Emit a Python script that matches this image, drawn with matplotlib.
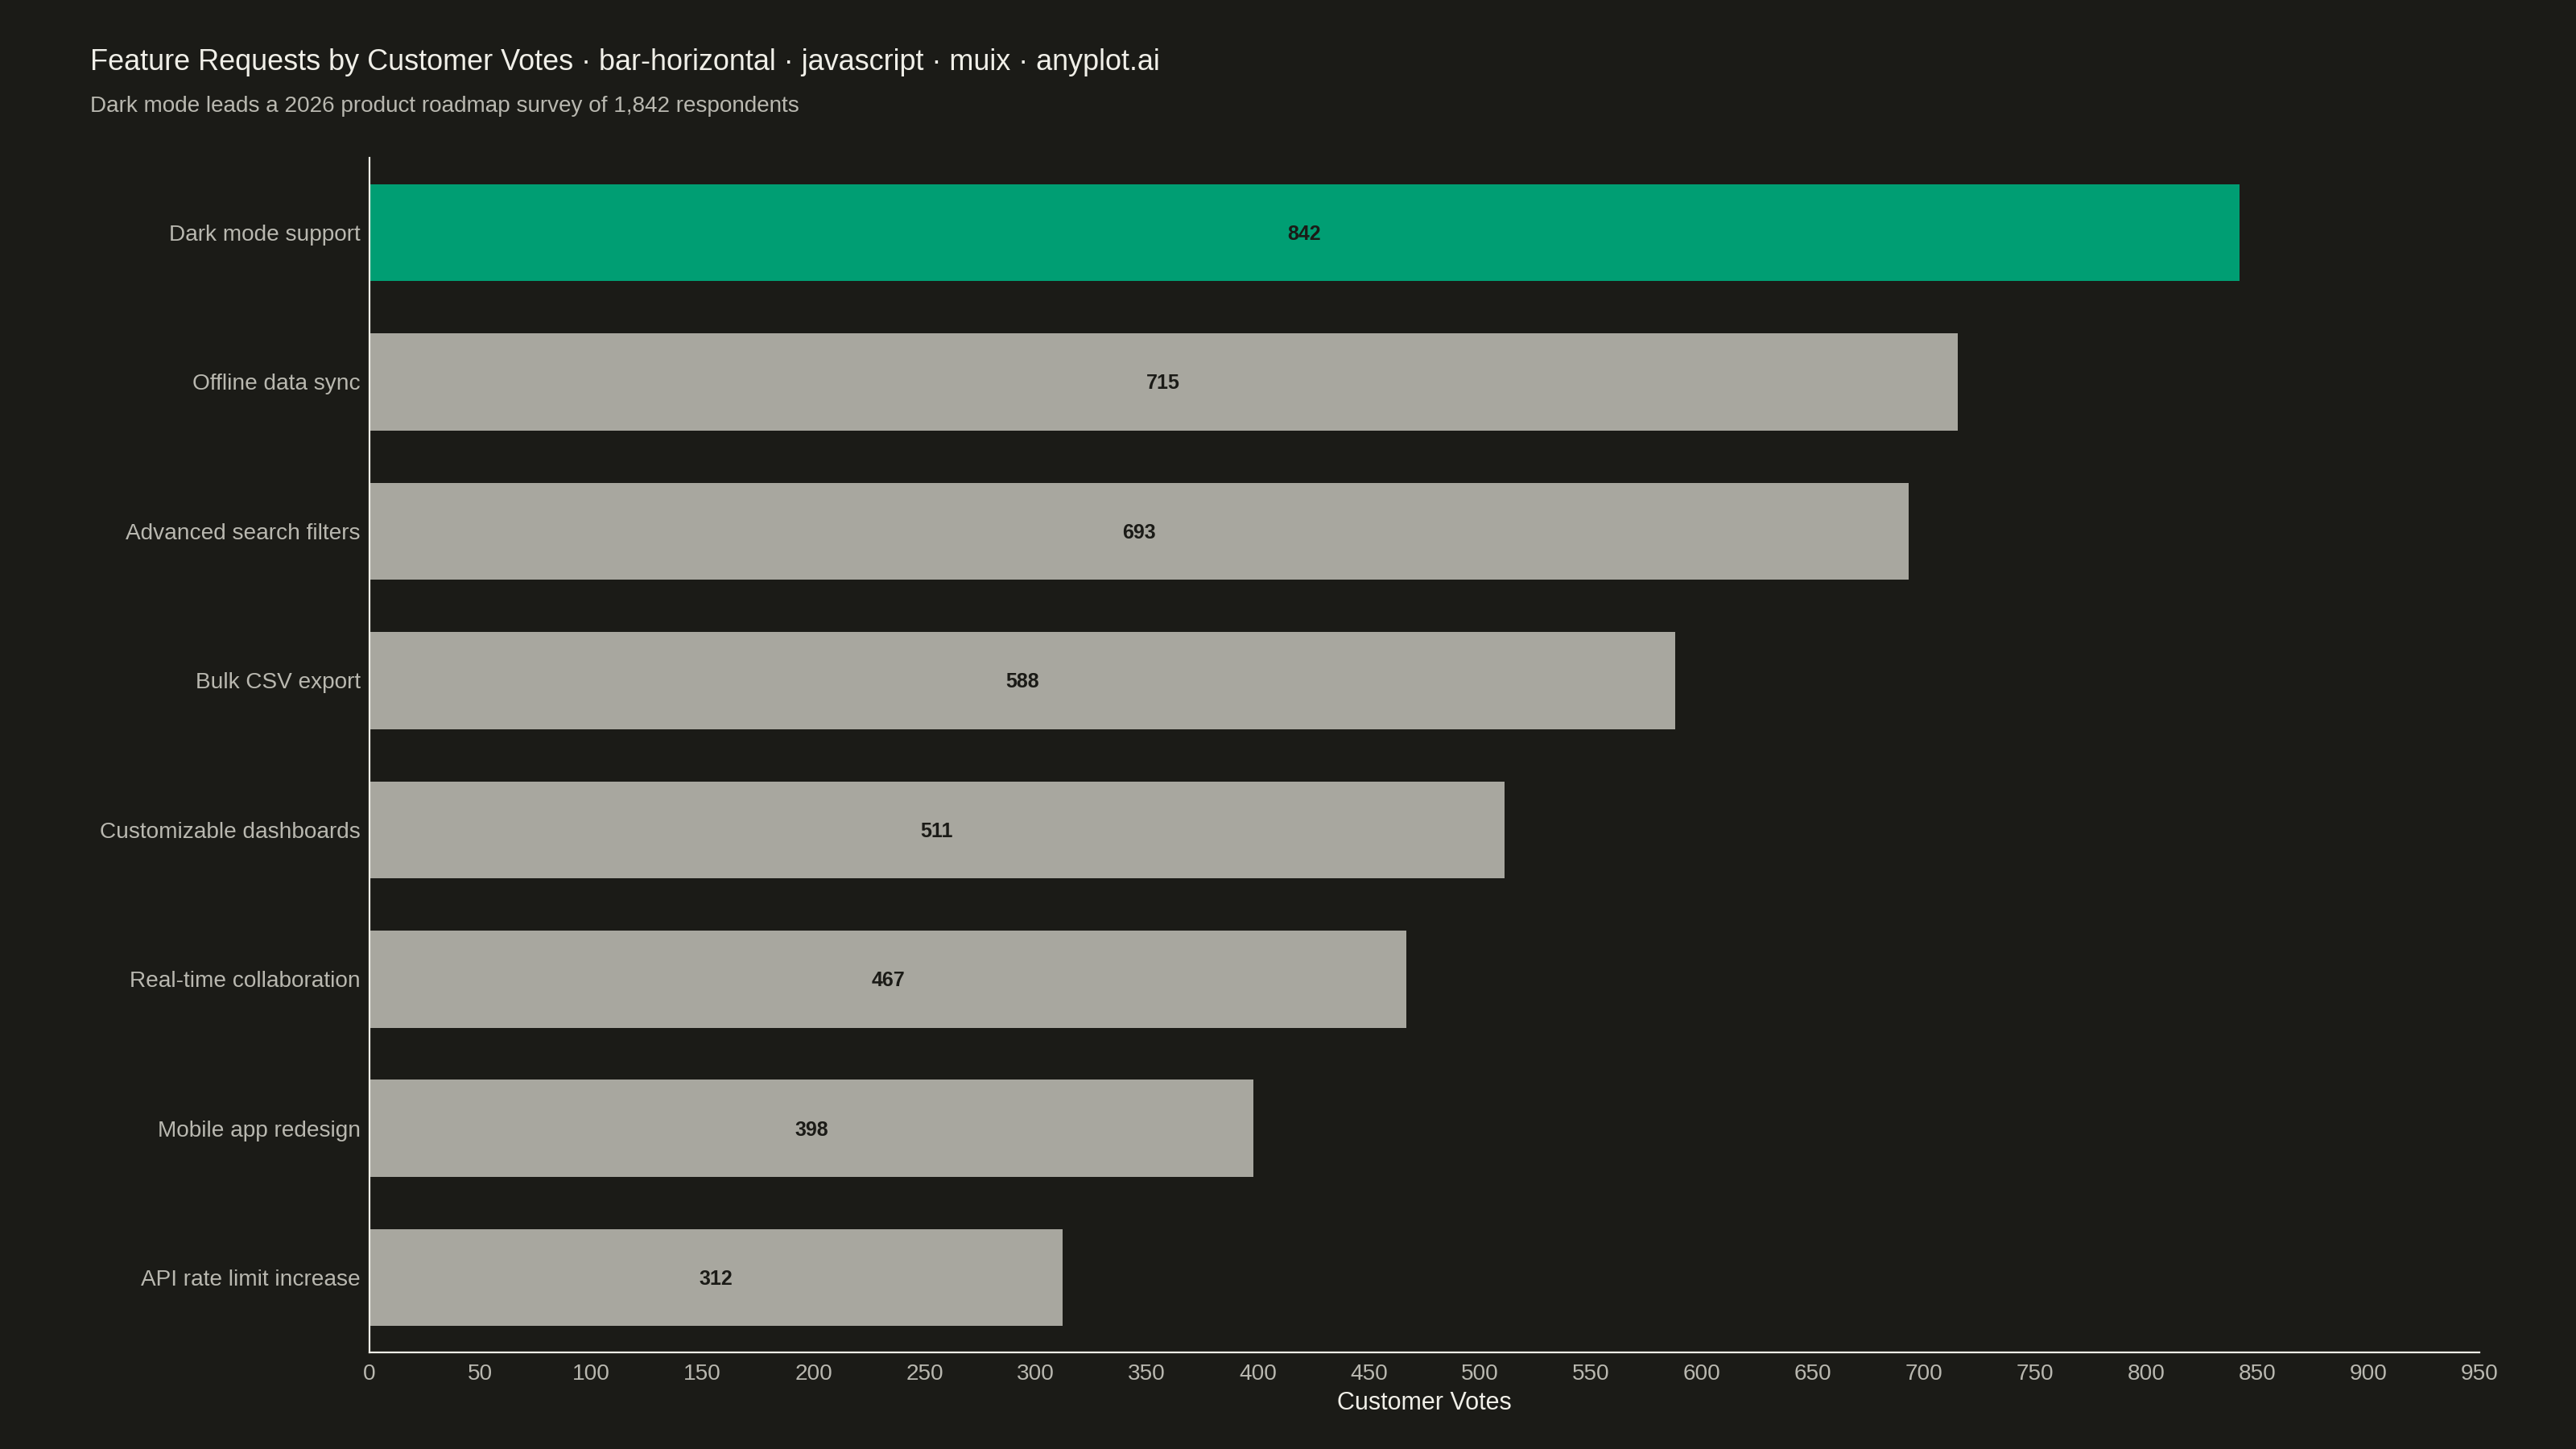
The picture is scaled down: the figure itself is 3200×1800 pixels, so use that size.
import matplotlib
matplotlib.use("Agg")
import matplotlib.pyplot as plt
import numpy as np

# data
features = ["Dark mode support", "Offline data sync", "Advanced search filters",
            "Bulk CSV export", "Customizable dashboards", "Real-time collaboration",
            "Mobile app redesign", "API rate limit increase"]
votes = [842, 715, 693, 588, 511, 467, 398, 312]
x_ticks = list(range(0, 951, 50))

BG = "#1b1b17"
GREEN = "#009e73"
GREY = "#a8a79f"
TEXT = "#f0efe8"
MUTED = "#b9b8b0"

plt.rcParams["font.family"] = ["Liberation Sans", "DejaVu Sans"]

fig = plt.figure(figsize=(16, 9), dpi=200, facecolor=BG)
ax = fig.add_axes([0.1434, 0.0667, 0.9625 - 0.1434, 0.891 - 0.0667])
ax.set_facecolor(BG)

y = np.arange(len(features))
colors = [GREEN] + [GREY] * (len(features) - 1)
ax.barh(y, votes, height=0.65, color=colors, linewidth=0)

for yi, v in zip(y, votes):
    ax.text(v / 2, yi + 0.01, str(v), ha="center", va="center",
            fontsize=9, fontweight="bold", color=BG)

ax.set_ylim(len(features) - 0.5, -0.5)
ax.set_xlim(0, 950)
ax.set_yticks(y)
ax.set_yticklabels(features)
ax.set_xticks(x_ticks)
ax.tick_params(axis="both", length=0, colors=MUTED, labelsize=10.1)
ax.tick_params(axis="y", pad=4)
ax.tick_params(axis="x", pad=5)

for s in ["top", "right"]:
    ax.spines[s].set_visible(False)
for s in ["left", "bottom"]:
    ax.spines[s].set_color(TEXT)
    ax.spines[s].set_linewidth(0.8)

ax.set_xlabel("Customer Votes", color=TEXT, fontsize=11, labelpad=3)

fig.text(0.035, 0.957, "Feature Requests by Customer Votes · bar-horizontal · javascript · muix · anyplot.ai",
         color=TEXT, fontsize=12.95, va="center", ha="left")
fig.text(0.035, 0.9265, "Dark mode leads a 2026 product roadmap survey of 1,842 respondents",
         color=MUTED, fontsize=10.05, va="center", ha="left")

fig.savefig("out.png", facecolor=BG)
